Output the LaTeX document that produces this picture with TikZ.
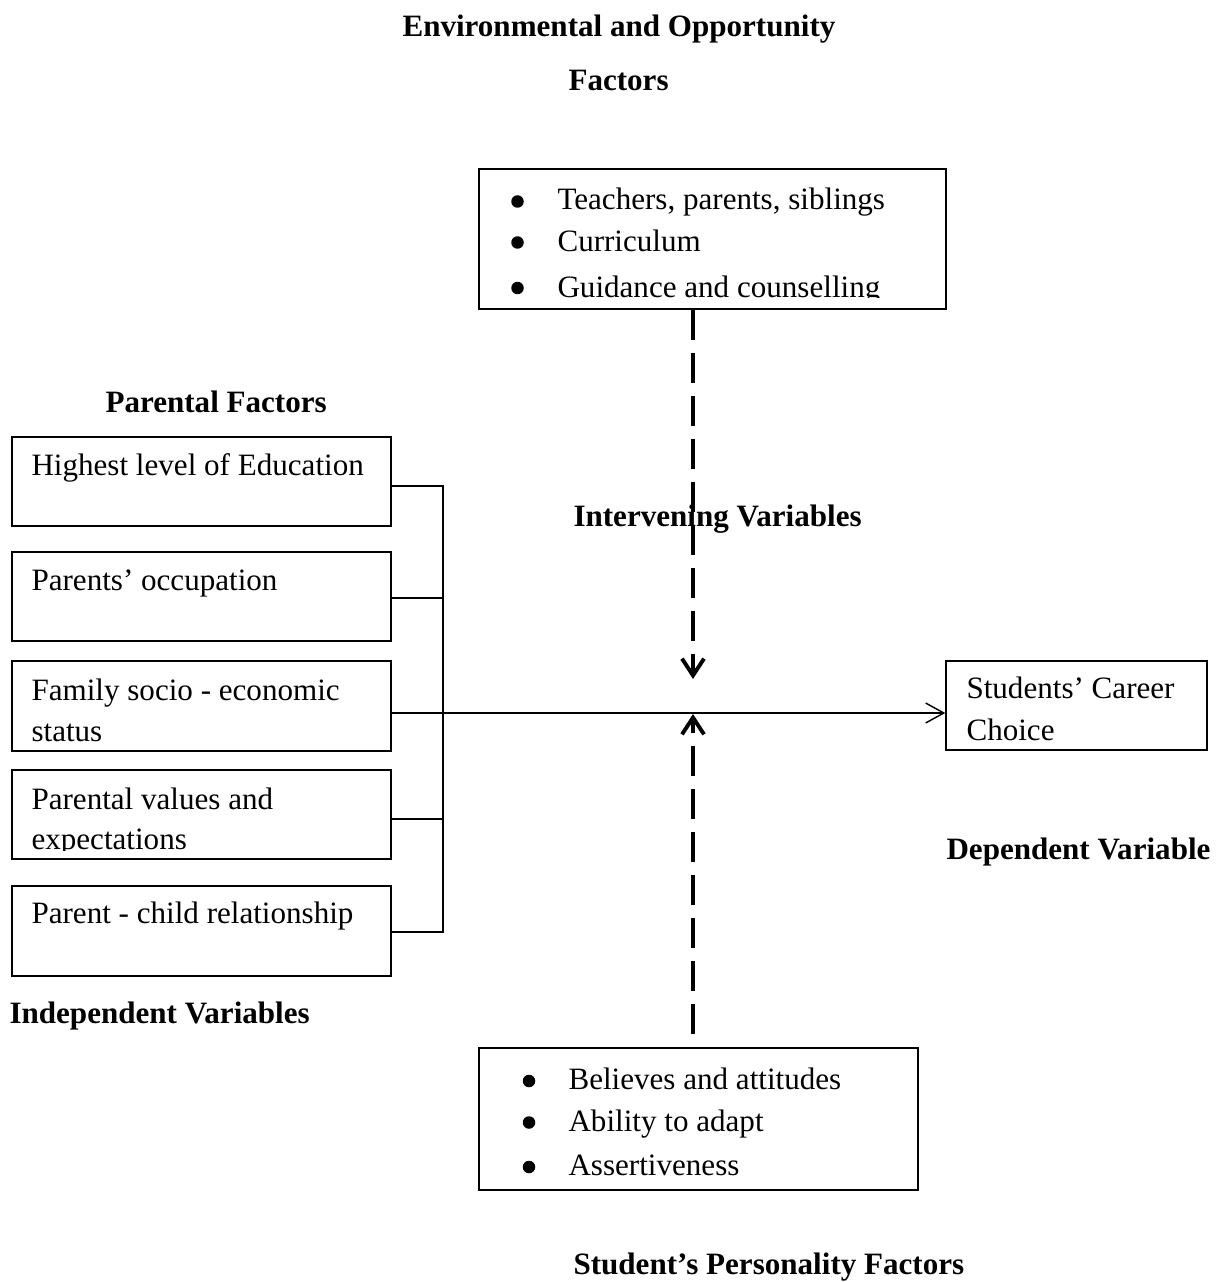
\documentclass[tikz,border=0pt]{standalone}
\usepackage{fontspec}
\setmainfont{Liberation Serif}
\usetikzlibrary{arrows.meta}
\newcommand\upx{0.3861pt}
\begin{document}
\begin{tikzpicture}[x=0.3861pt,y=-0.3861pt,
  box/.style={draw, line width=0.55pt, inner sep=0pt},
  txt/.style={anchor=base west, inner sep=0pt, font=\fontsize{12pt}{14pt}\selectfont},
  head/.style={anchor=base west, inner sep=0pt, font=\fontsize{12pt}{14pt}\selectfont\bfseries},
  dot/.style={circle, fill=black, inner sep=0pt, minimum size=12.5*\upx},
  dashline/.style={line width=1.5pt, dash pattern=on 11.6pt off 5pt, -{Straight Barb[length=6.5pt,width=8.5pt]}},
  link/.style={line width=0.55pt}]
\useasboundingbox (0,0) rectangle (1226,1282);

% boxes
\node[box, minimum width=379*\upx, minimum height=89*\upx] (b1) at (201.5,481.5) {};
\node[box, minimum width=379*\upx, minimum height=89*\upx] (b2) at (201.5,596.5) {};
\node[box, minimum width=379*\upx, minimum height=90*\upx] (b3) at (201.5,706) {};
\node[box, minimum width=379*\upx, minimum height=89*\upx] (b4) at (201.5,814.5) {};
\node[box, minimum width=379*\upx, minimum height=90*\upx] (b5) at (201.5,931) {};
\node[box, minimum width=467*\upx, minimum height=140*\upx] (env) at (712.5,239) {};
\node[box, minimum width=439*\upx, minimum height=142*\upx] (pers) at (698.5,1119) {};
\node[box, minimum width=261*\upx, minimum height=89*\upx] (career) at (1076.5,705.5) {};

% headings
\node[head] (h1) at (402,37) {Environmental and Opportunity};
\node[head] (h2) at (568,91) {Factors};
\node[head] (h3) at (105,412) {Parental Factors};
\node[head] (h4) at (573,526) {Intervening Variables};
\node[head] (h5) at (9,1023) {Independent Variables};
\node[head] (h6) at (946,859) {Dependent Variable};
\node[head] (h7) at (573,1274) {Student’s Personality Factors};

% box texts
\node[txt] (t1) at (31,475) {Highest level of Education};
\node[txt] (t2) at (31,590) {Parents’ occupation};
\node[txt] (t3a) at (31,700) {Family socio - economic};
\node[txt] (t3b) at (31,741) {status};
\node[txt] (t4a) at (31,809) {Parental values and};
\begin{scope}
\clip (12,770) rectangle (391,850);
\node[txt] (t4b) at (31,849) {expectations};
\end{scope}
\node[txt] (t5) at (31,923) {Parent - child relationship};
\node[txt] (c1) at (966,698) {Students’ Career};
\node[txt] (c2) at (966,740) {Choice};

\node[dot] (eb1) at (517.5,201.5) {};
\node[txt] (e1) at (557,210) {Teachers, parents, siblings};
\node[dot] (eb2) at (517.5,242.5) {};
\node[txt] (e2) at (557,252) {Curriculum};
\node[dot] (eb3) at (517.5,288) {};
\begin{scope}
\clip (479,169) rectangle (946,298);
\node[txt] (e3) at (557,297) {Guidance and counselling};
\end{scope}

\node[dot] (pb1) at (529,1081) {};
\node[txt] (p1) at (568,1089) {Believes and attitudes};
\node[dot] (pb2) at (529,1122.5) {};
\node[txt] (p2) at (568,1131) {Ability to adapt};
\node[dot] (pb3) at (529,1167) {};
\node[txt] (p3) at (568,1175) {Assertiveness};

% connectors
\coordinate (j1) at (443,486);
\coordinate (j2) at (443,598);
\coordinate (m) at (443,713);
\coordinate (j4) at (443,819);
\coordinate (j5) at (443,932);
\coordinate (tipTop) at (693,679);
\coordinate (tipBot) at (693,714);

\draw[link] (b1.east |- j1) -- (j1) -- (j5) -- (b5.east |- j5);
\draw[link] (b2.east |- j2) -- (j2);
\draw[link] (b4.east |- j4) -- (j4);
\draw[link, -{Straight Barb[length=7pt,width=7.7pt]}] (b3.east |- m) -- (career.west |- m);
\draw[dashline] (env.south -| tipTop) -- (tipTop);
\draw[dashline, dash phase=11.6pt] (pers.north -| tipBot) -- (tipBot);
\end{tikzpicture}
\end{document}
